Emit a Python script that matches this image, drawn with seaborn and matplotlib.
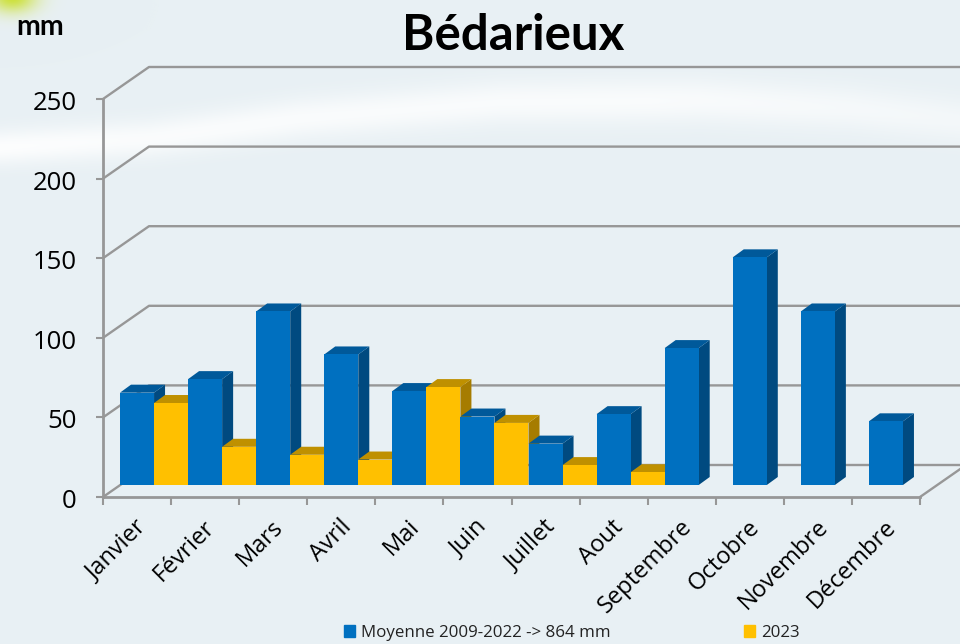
import numpy as np
import pandas as pd
import matplotlib
matplotlib.use("Agg")
import matplotlib.pyplot as plt
import seaborn as sns
from matplotlib.patches import Polygon, Patch
from matplotlib.transforms import Affine2D

mois = ['Janvier', 'Février', 'Mars', 'Avril', 'Mai', 'Juin', 'Juillet', 'Aout',
        'Septembre', 'Octobre', 'Novembre', 'Décembre']
moyenne = [58, 66.5, 109, 82, 59, 43, 26, 44.5, 86, 143, 109, 40]
annee_2023 = [51.5, 24, 19, 16, 61.5, 39, 12.5, 8, None, None, None, None]
nom_moyenne = 'Moyenne 2009-2022 -> 864 mm'
nom_2023 = '2023'
ticks_y = [0, 50, 100, 150, 200, 250]

BLEU, BLEU_HAUT, BLEU_COTE = '#0070C0', '#00599A', '#004A80'
JAUNE, JAUNE_HAUT, JAUNE_COTE = '#FFC000', '#BF9000', '#A67C00'
GRIS = '#979797'

sns.set_theme(style='white')
plt.rcParams['font.family'] = ['Open Sans', 'DejaVu Sans']

fig = plt.figure(figsize=(9.6, 6.44), dpi=100)

# fond : bleu clair, bande blanche et coin vert
h, w = 644, 960
yy, xx = np.mgrid[0:h, 0:w]
fond = np.ones((h, w, 3)) * np.array([232, 240, 244]) / 255
centre = np.interp(xx, [0, 150, 300, 500, 700, 850, 960], [147, 138, 118, 102, 100, 108, 120])
epais = np.interp(xx, [0, 300, 600, 960], [17, 20, 22, 22])
force = np.interp(xx, [0, 120, 400, 650, 960], [0.9, 0.8, 0.75, 0.75, 0.5])
bande = (force * np.exp(-((yy - centre) / epais) ** 2))[..., None]
fond = fond * (1 - bande) + bande
coin = np.exp(-(((xx - 12) / 24) ** 2 + ((yy + 3) / 15) ** 2))[..., None]
fond = fond * (1 - coin) + np.array([205, 225, 60]) / 255 * coin
bg = fig.add_axes([0, 0, 1, 1], zorder=0)
bg.imshow(fond, aspect='auto')
bg.axis('off')

ax = fig.add_axes([103 / 960, (644 - 497) / 644, 817 / 960, 398 / 644], zorder=1)
ax.patch.set_alpha(0)

df = pd.DataFrame({
    'mois': mois * 2,
    'mm': moyenne + annee_2023,
    'serie': [nom_moyenne] * 12 + [nom_2023] * 12,
})
sns.barplot(data=df, x='mois', y='mm', hue='serie', order=mois,
            palette={nom_moyenne: BLEU, nom_2023: JAUNE},
            width=1, gap=0, saturation=1, legend=False, linewidth=0, ax=ax)

ax.set_xlim(-0.5, 11.5)
ax.set_ylim(0, 250)
px_x = 817 / 12
px_y = 398 / 250

# murs et grille en fausse 3D
fond_x, fond_y = 46 / px_x, 32 / px_y
for v in ticks_y:
    ax.plot([-0.5, -0.5 + fond_x, 11.5 + fond_x], [v, v + fond_y, v + fond_y],
            color=GRIS, lw=1.7, clip_on=False, zorder=1)
ax.plot([11.5, 11.5 + fond_x], [0, fond_y], color=GRIS, lw=1.7, clip_on=False, zorder=1)

# barres decalees dans la profondeur, avec cote et dessus
place = ax.transData + Affine2D().translate(17, 12)
prof_x, prof_y = 11 / px_x, 8 / px_y
barres = sorted([b for b in ax.patches if b.get_height() > 0], key=lambda b: b.get_x())
for i, b in enumerate(barres):
    x0, x1, haut = b.get_x(), b.get_x() + b.get_width(), b.get_height()
    bleu = matplotlib.colors.to_hex(b.get_facecolor()).upper() == BLEU.upper()
    z = 3 + i
    ax.add_patch(Polygon([(x1, 0), (x1 + prof_x, prof_y), (x1 + prof_x, haut + prof_y), (x1, haut)],
                         facecolor=BLEU_COTE if bleu else JAUNE_COTE, transform=place,
                         clip_on=False, zorder=z, lw=0))
    ax.add_patch(Polygon([(x0, haut), (x0 + prof_x, haut + prof_y), (x1 + prof_x, haut + prof_y), (x1, haut)],
                         facecolor=BLEU_HAUT if bleu else JAUNE_HAUT, transform=place,
                         clip_on=False, zorder=z, lw=0))
    b.set_transform(place)
    b.set_clip_on(False)
    b.set_zorder(z + 0.5)

sns.despine(ax=ax)
for s in ['left', 'bottom']:
    ax.spines[s].set_color(GRIS)
    ax.spines[s].set_linewidth(2)

ax.set_xlabel('')
ax.set_ylabel('')
ax.set_yticks(ticks_y)
ax.tick_params(axis='y', length=5, width=1.5, color=GRIS, left=True, labelsize=18.5, labelcolor='black', pad=14)
ax.set_xticks(np.arange(13) - 0.5, labels=[''] * 13)
ax.set_xticks(np.arange(12), labels=mois, minor=True)
ax.tick_params(axis='x', which='major', length=6, width=1.5, color=GRIS, bottom=True)
ax.tick_params(axis='x', which='minor', length=0, labelsize=17, labelcolor='black', pad=13)
for t in ax.get_xticklabels(minor=True):
    t.set_rotation(45)
    t.set_ha('right')
    t.set_rotation_mode('anchor')
    t.set_transform(t.get_transform() + Affine2D().translate(-2, 0))
for t in ax.get_yticklabels():
    t.set_transform(t.get_transform() + Affine2D().translate(0, -1.5))

fig.text(513 / 960, 1 - 36 / 644, 'Bédarieux', family=['Lato', 'DejaVu Sans'], fontweight='bold',
         fontsize=35.5, ha='center', va='center', color='black')
fig.text(16 / 960, 1 - 27 / 644, 'mm', family=['Lato', 'DejaVu Sans'], fontweight='bold',
         fontsize=20.5, ha='left', va='center', color='black')

fig.legend(handles=[Patch(color=BLEU, label=nom_moyenne), Patch(color=JAUNE, label=nom_2023)],
           ncol=2, loc='center left', bbox_to_anchor=(344 / 960, 1 - 633 / 644), frameon=False,
           fontsize=12.2, handlelength=0.65, handleheight=0.65, handletextpad=0.35,
           columnspacing=7.9, borderpad=0, borderaxespad=0, labelcolor='#222222')

fig.savefig('out.png', dpi=100)
